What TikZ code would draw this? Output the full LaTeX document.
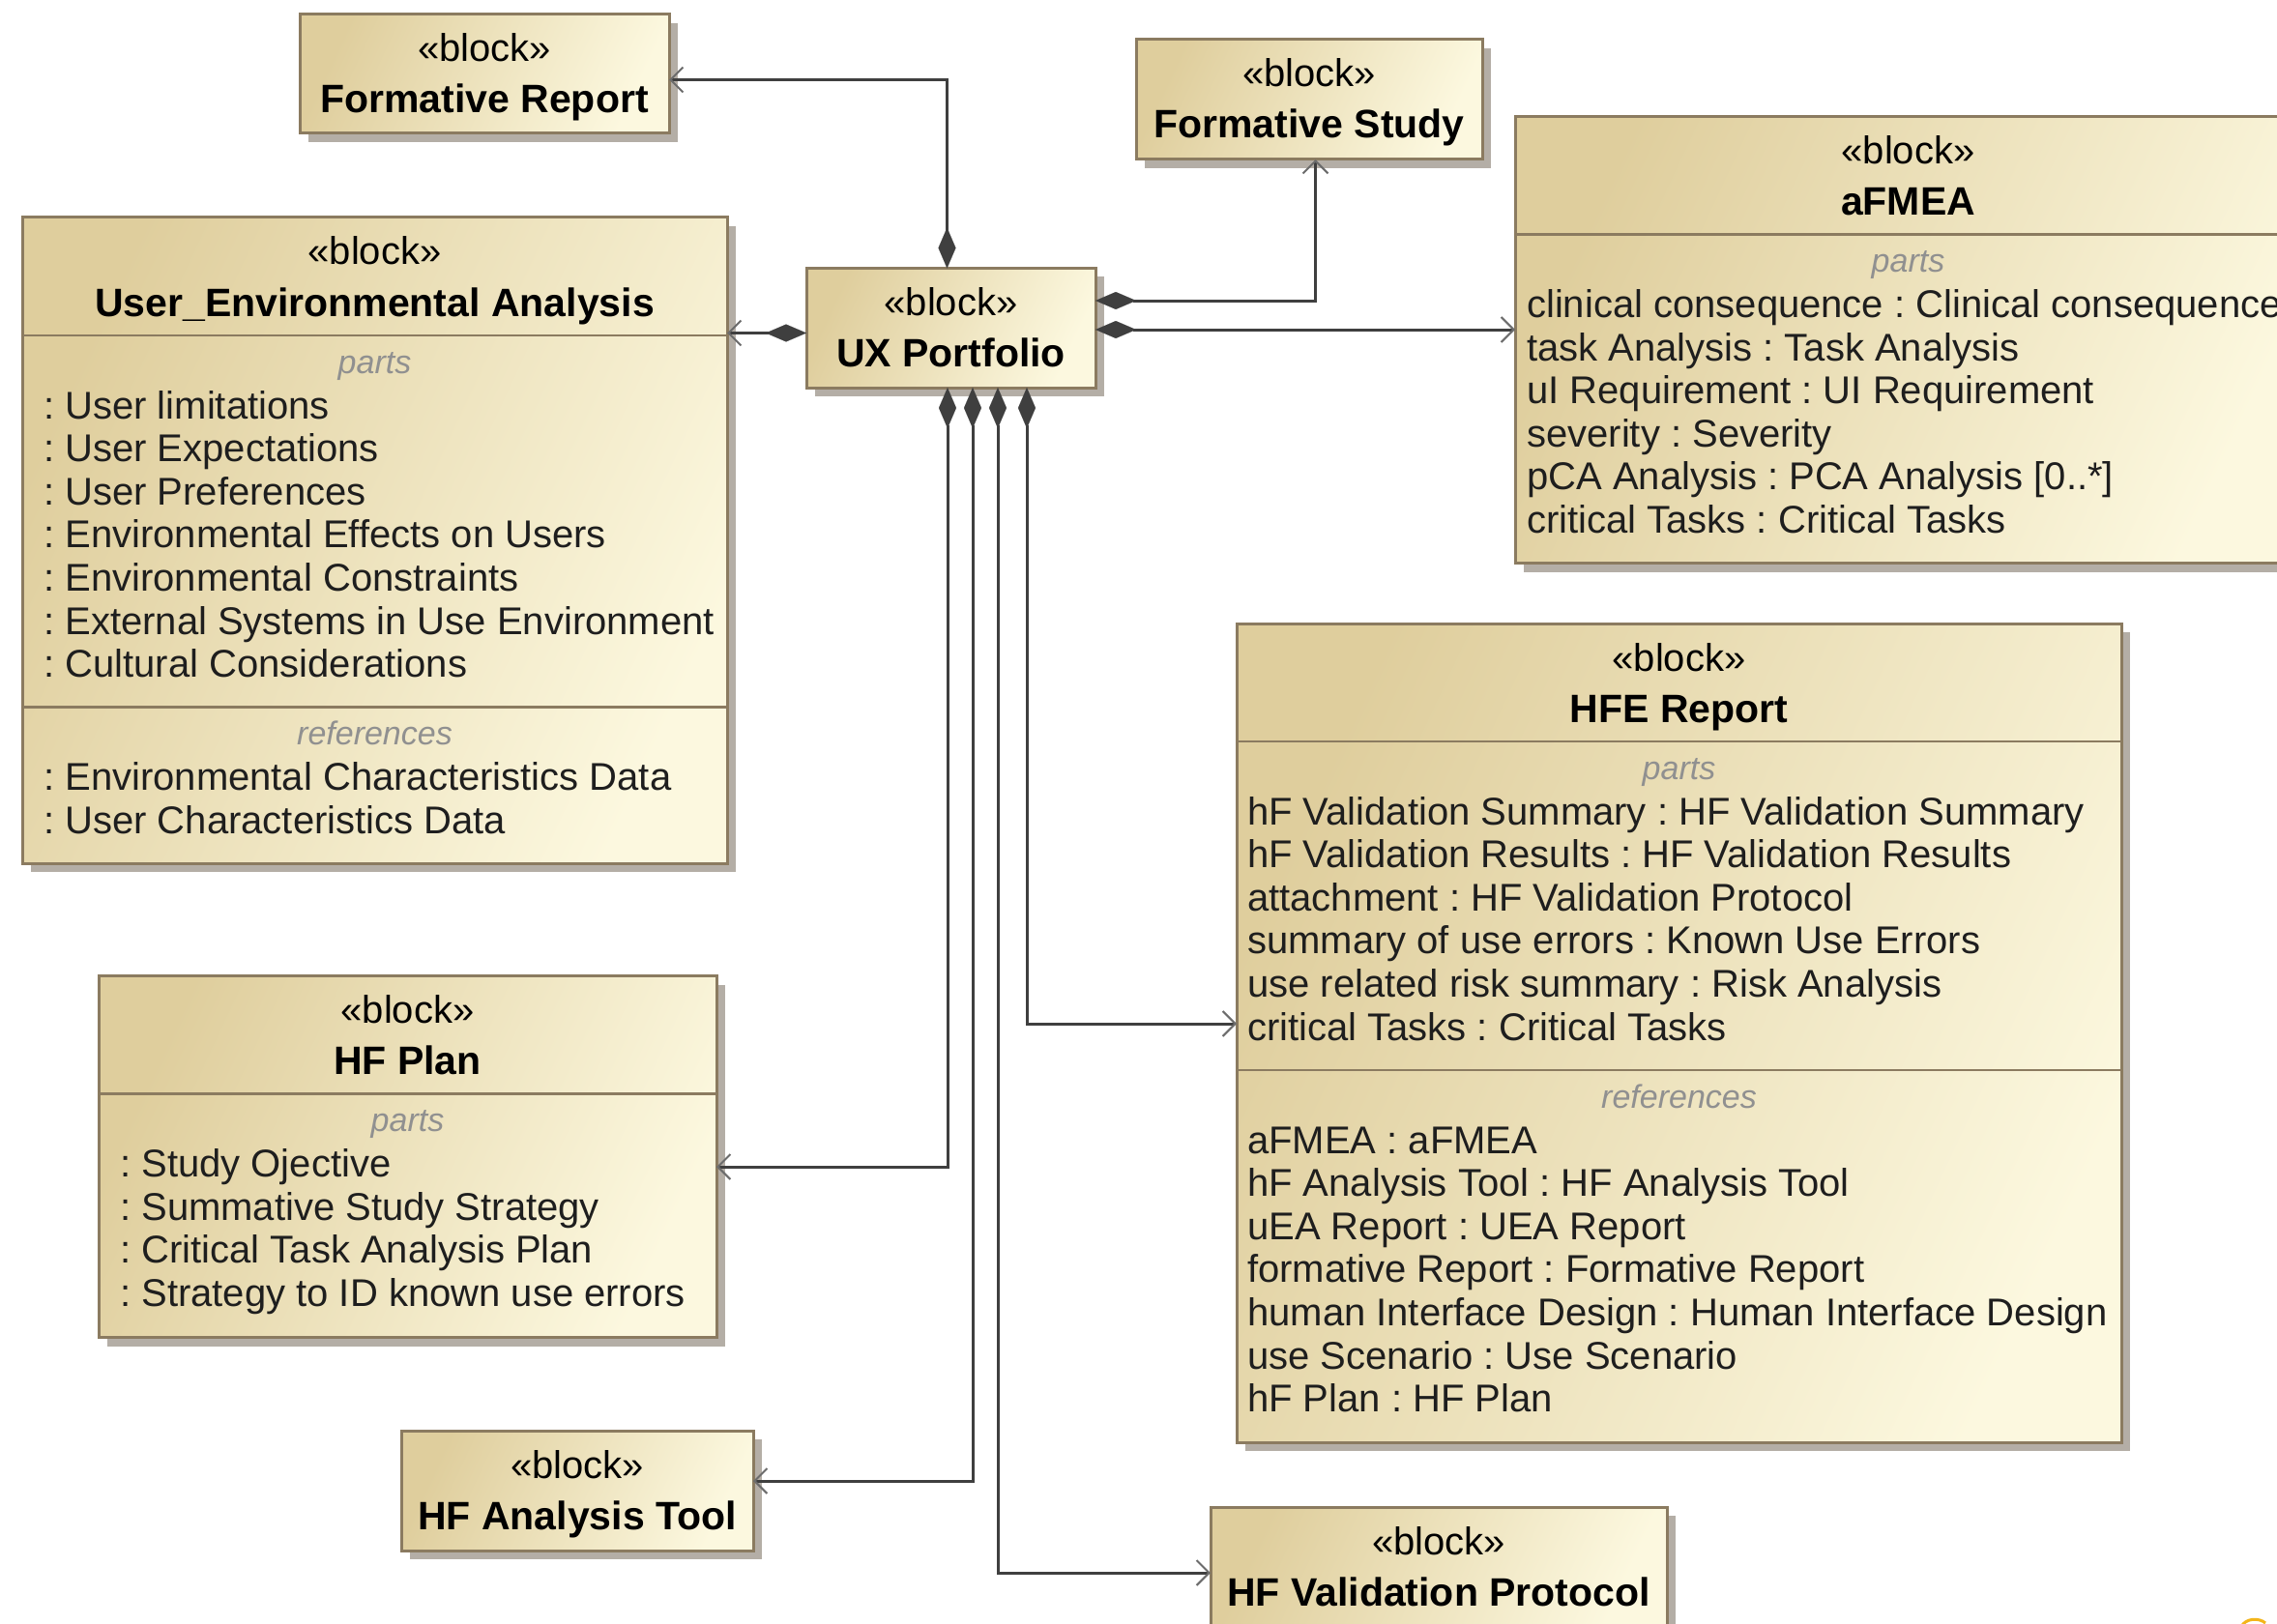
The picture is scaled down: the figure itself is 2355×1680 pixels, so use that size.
\documentclass[tikz,border=0pt]{standalone}
\usepackage{fontspec}
\setmainfont{Liberation Sans}
\usetikzlibrary{arrows.meta,calc,shadows}
\frenchspacing

\definecolor{blkdark}{HTML}{DFCE9D}
\definecolor{blklight}{HTML}{FCF8DF}
\definecolor{blkedge}{HTML}{8B7B60}
\definecolor{blkshadow}{HTML}{B4AEA6}
\definecolor{wire}{HTML}{3F3F3F}
\definecolor{tipgrey}{HTML}{6C6C6C}
\definecolor{compgrey}{HTML}{909090}
\definecolor{itemink}{HTML}{1E1E1E}
\definecolor{iconorange}{HTML}{F3B51A}

\newcommand\bodyfont{\fontsize{40}{44.6}\selectfont}
\newcommand\namefont{\fontsize{41}{46}\selectfont\bfseries}
\newcommand\compfont{\fontsize{34}{40}\selectfont\itshape}

\tikzset{
  blockbox/.style={rectangle, anchor=north west, inner sep=0pt, outer sep=0pt,
    draw=blkedge, line width=3pt,
    left color=blkdark, right color=blklight, shading angle=65,
    drop shadow={shadow xshift=9pt, shadow yshift=-9pt, fill=blkshadow, opacity=1}},
  stereo/.style={anchor=base, inner sep=0pt, font=\bodyfont, text=black},
  blockname/.style={anchor=base, inner sep=0pt, font=\namefont, text=black},
  comptitle/.style={anchor=base, inner sep=0pt, font=\compfont, text=compgrey},
  itemtext/.style={anchor=base west, inner sep=0pt, font=\bodyfont, text=itemink},
  divider/.style={draw=blkedge, line width=2.5pt},
  composition/.style={draw=wire, line width=3pt,
    {Diamond[length=42pt,width=18pt,line width=0.1pt]}-{Straight Barb[length=13pt,width=26pt,line width=2pt,color=tipgrey]}},
}

% stereotype and name of a block
\newcommand\blockhead[2]{%
  \node[stereo] (#1-st) at ($(#1.north)+(0,49)$) {«block»};
  \node[blockname] (#1-nm) at ($(#1.north)+(0,102)$) {#2};
}
% horizontal compartment separator at a given depth below the top
\newcommand\blockrule[2]{%
  \draw[divider] ($(#1.north west)+(0,#2)$) -- ($(#1.north east)+(0,#2)$);
}
% compartment heading (parts / references)
\newcommand\blockcomp[3]{%
  \node[comptitle] (#1-#2) at ($(#1.north)+(0,#3)$) {#2};
}
% compartment entries: box, tag, x offset, first baseline, entries
\newcommand\blocklines[5]{%
  \foreach \txt [count=\k] in {#5}
    \node[itemtext] (#1-#2\k) at ($(#1.north west)+(#3,{#4+44.6*(\k-1)})$) {\txt};
}

\begin{document}
\begin{tikzpicture}[x=1pt,y=-1pt]
\useasboundingbox (0,0) rectangle (2355,1680);
\fill[white] (0,0) rectangle (2355,1680);
\clip (0,0) rectangle (2355,1680);

% ---- blocks ----
\node[blockbox, minimum width=382pt, minimum height=123pt] (frep) at (310,15) {};
\blockhead{frep}{Formative Report}

\node[blockbox, minimum width=358pt, minimum height=124pt] (fstudy) at (1175,41) {};
\blockhead{fstudy}{Formative Study}

\node[blockbox, minimum width=299pt, minimum height=123.5pt] (ux) at (834,277.5) {};
\blockhead{ux}{UX Portfolio}

\node[blockbox, minimum width=813pt, minimum height=462pt] (afmea) at (1567,120.5) {};
\blockhead{afmea}{aFMEA}
\blockrule{afmea}{122}
\blockcomp{afmea}{parts}{161}
\blocklines{afmea}{p}{12}{208}{clinical consequence : Clinical consequence,
  task Analysis : Task Analysis,
  uI Requirement : UI Requirement,
  severity : Severity,
  pCA Analysis : PCA Analysis [0..*],
  critical Tasks : Critical Tasks}

\node[blockbox, minimum width=729pt, minimum height=668pt] (uea) at (23,225) {};
\blockhead{uea}{User\_Environmental Analysis}
\blockrule{uea}{122}
\blockcomp{uea}{parts}{161}
\blocklines{uea}{p}{22}{208}{: User limitations,
  : User Expectations,
  : User Preferences,
  : Environmental Effects on Users,
  : Environmental Constraints,
  : External Systems in Use Environment,
  : Cultural Considerations}
\blockrule{uea}{506.6}
\blockcomp{uea}{references}{545.6}
\blocklines{uea}{r}{22}{592.6}{: Environmental Characteristics Data,
  : User Characteristics Data}

\node[blockbox, minimum width=915pt, minimum height=847pt] (hfe) at (1279,645) {};
\blockhead{hfe}{HFE Report}
\blockrule{hfe}{122}
\blockcomp{hfe}{parts}{161}
\blocklines{hfe}{p}{11}{208}{hF Validation Summary : HF Validation Summary,
  hF Validation Results : HF Validation Results,
  attachment : HF Validation Protocol,
  summary of use errors : Known Use Errors,
  use related risk summary : Risk Analysis,
  critical Tasks : Critical Tasks}
\blockrule{hfe}{462}
\blockcomp{hfe}{references}{501}
\blocklines{hfe}{r}{11}{548}{aFMEA : aFMEA,
  hF Analysis Tool : HF Analysis Tool,
  uEA Report : UEA Report,
  formative Report : Formative Report,
  human Interface Design : Human Interface Design,
  use Scenario : Use Scenario,
  hF Plan : HF Plan}

\node[blockbox, minimum width=639pt, minimum height=374pt] (hfplan) at (102,1009.6) {};
\blockhead{hfplan}{HF Plan}
\blockrule{hfplan}{122}
\blockcomp{hfplan}{parts}{161}
\blocklines{hfplan}{p}{22}{208}{: Study Ojective,
  : Summative Study Strategy,
  : Critical Task Analysis Plan,
  : Strategy to ID known use errors}

\node[blockbox, minimum width=364pt, minimum height=124pt] (hfat) at (415,1480) {};
\blockhead{hfat}{HF Analysis Tool}

\node[blockbox, minimum width=472pt, minimum height=124pt] (hfvp) at (1252,1559) {};
\blockhead{hfvp}{HF Validation Protocol}

% ---- composition connectors ----
\draw[composition] ($(ux.north west)+(145.5,0)$) |- ($(frep.north east)+(0,67.5)$);
\draw[composition] ($(ux.north east)+(0,33.5)$) -| ($(fstudy.south west)+(185.5,0)$);
\draw[composition] ($(ux.north east)+(0,63.5)$) -- ($(afmea.north west)+(0,220.5)$);
\draw[composition] ($(ux.north west)+(0,67)$) -- ($(uea.north east)+(0,119.5)$);
\draw[composition] ($(ux.south west)+(146,0)$) |- ($(hfplan.north east)+(0,197.4)$);
\draw[composition] ($(ux.south west)+(172,0)$) |- ($(hfat.north east)+(0,52)$);
\draw[composition] ($(ux.south west)+(198,0)$) |- ($(hfvp.north west)+(0,68)$);
\draw[composition] ($(ux.south west)+(228,0)$) |- ($(hfe.north west)+(0,414)$);

% corner mark
\draw[iconorange, line width=3pt] (2318,1683) .. controls (2322,1674) and (2336,1673) .. (2343,1679);
\end{tikzpicture}
\end{document}
